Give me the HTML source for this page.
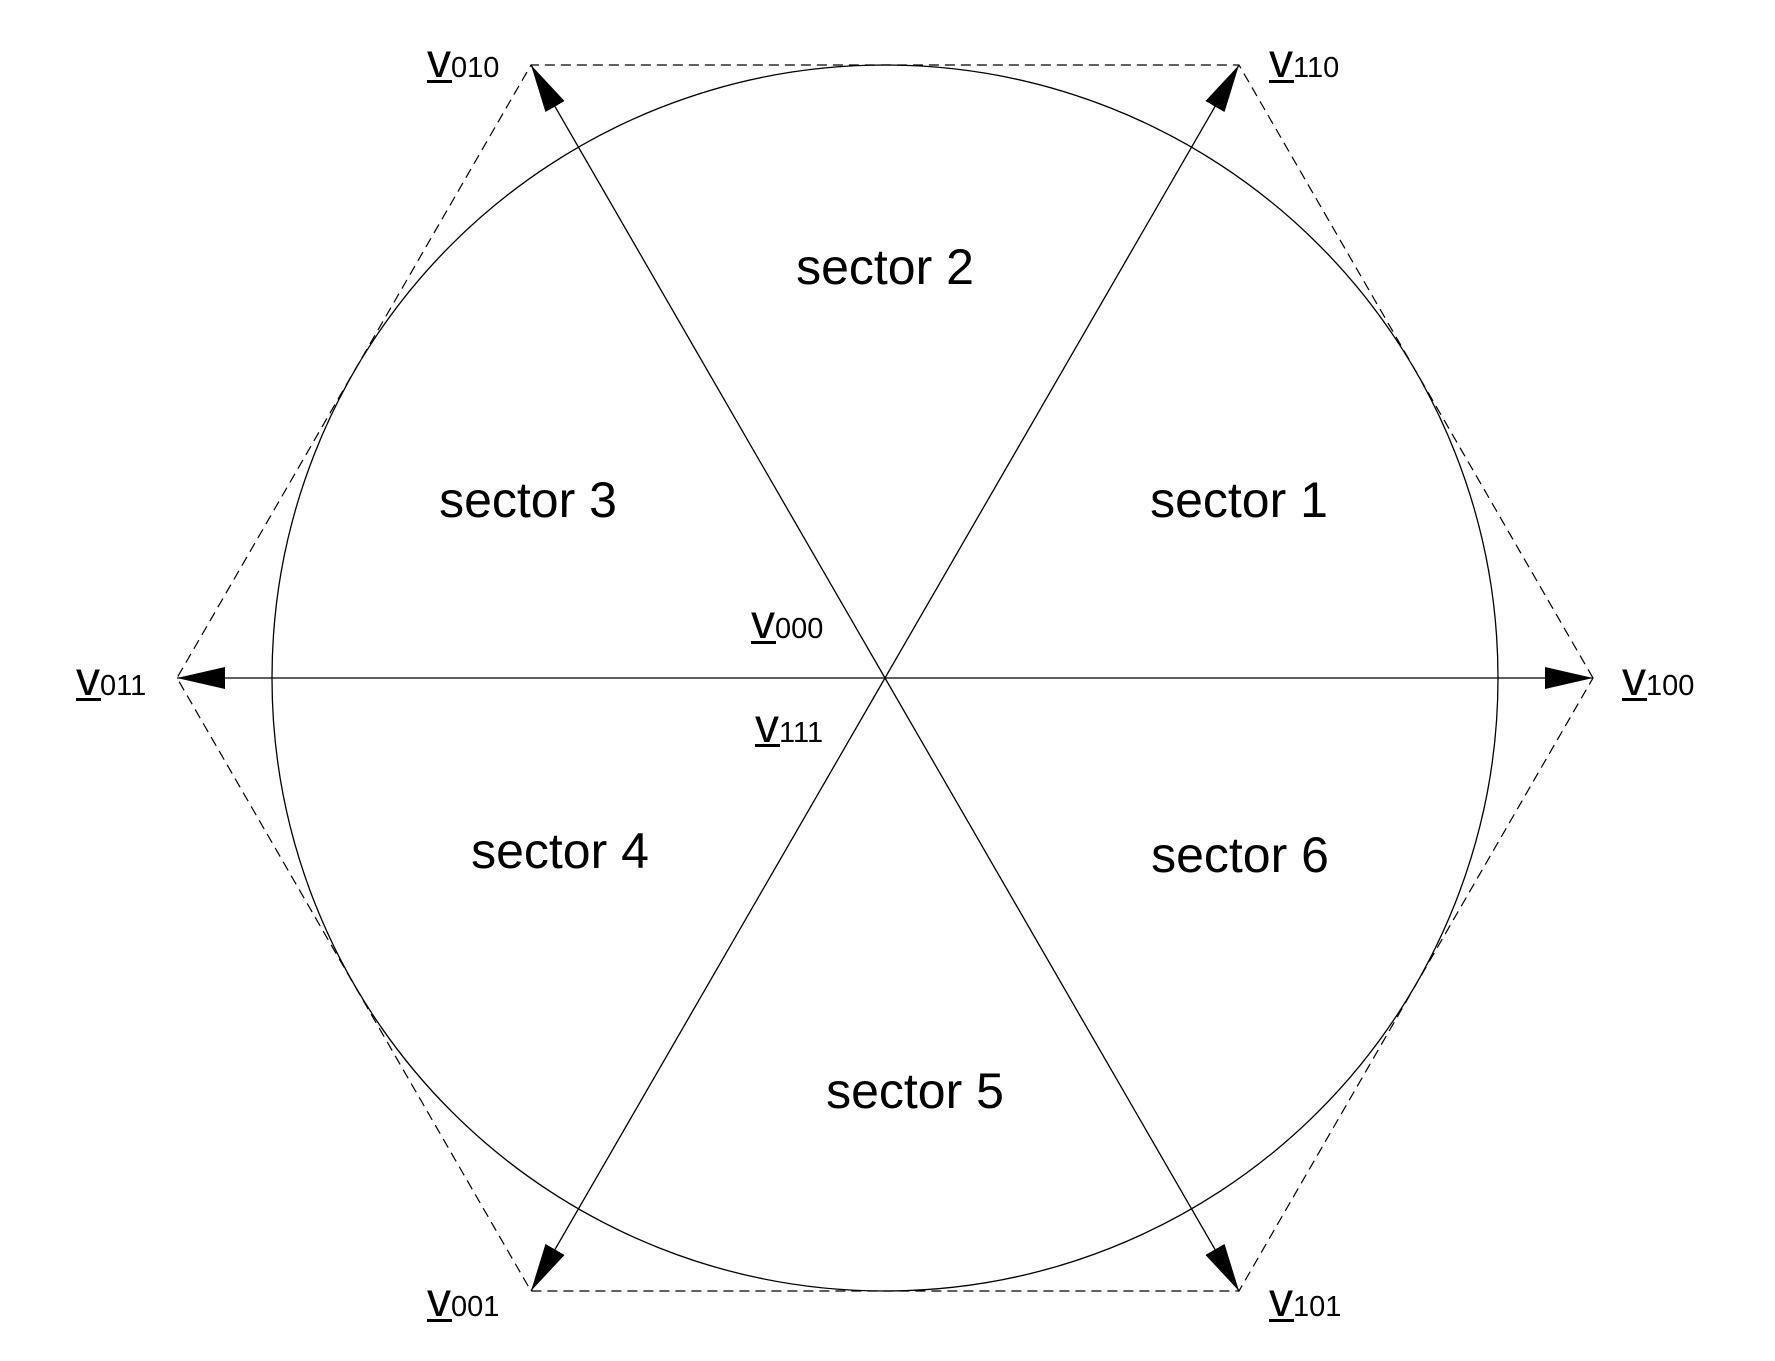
<!DOCTYPE html>
<html><head><meta charset="utf-8"><style>
html,body{margin:0;padding:0;background:#fff;}
svg{display:block;}
text{font-family:"Liberation Sans",sans-serif;fill:#000;}
.s{font-size:50px;text-anchor:middle;}
.v{font-size:48px;}
.d{font-size:29px;}
</style></head><body>
<svg width="1775" height="1361" viewBox="0 0 1775 1361" xmlns="http://www.w3.org/2000/svg">
<defs>
<marker id="a" markerWidth="48" markerHeight="22" refX="48" refY="11" orient="auto" markerUnits="userSpaceOnUse">
<path d="M0,0 L48,11 L0,22 Z" fill="#000"/>
</marker>
</defs>
<polygon points="1593,678 1239,65 531,65 177,678 531,1291 1239,1291" fill="none" stroke="#000" stroke-width="1.2" stroke-dasharray="10,6"/>
<circle cx="885" cy="678" r="613" fill="none" stroke="#000" stroke-width="1.3"/>
<g stroke="#000" stroke-width="1.3" marker-end="url(#a)">
<line x1="885" y1="678" x2="1593" y2="678"/>
<line x1="885" y1="678" x2="1239" y2="65"/>
<line x1="885" y1="678" x2="531" y2="65"/>
<line x1="885" y1="678" x2="177" y2="678"/>
<line x1="885" y1="678" x2="531" y2="1291"/>
<line x1="885" y1="678" x2="1239" y2="1291"/>
</g>
<text class="s" x="885" y="284">sector 2</text>
<text class="s" x="528" y="517">sector 3</text>
<text class="s" x="1239" y="517">sector 1</text>
<text class="s" x="560" y="868">sector 4</text>
<text class="s" x="1240" y="872">sector 6</text>
<text class="s" x="915" y="1108">sector 5</text>
<g>
<text x="427" y="77"><tspan class="v">v</tspan><tspan class="d">010</tspan></text><rect x="427" y="80" width="25" height="3"/>
<text x="1269" y="77"><tspan class="v">v</tspan><tspan class="d">110</tspan></text><rect x="1269" y="80" width="25" height="3"/>
<text x="76" y="695"><tspan class="v">v</tspan><tspan class="d">011</tspan></text><rect x="76" y="698" width="25" height="3"/>
<text x="1622" y="695"><tspan class="v">v</tspan><tspan class="d">100</tspan></text><rect x="1622" y="698" width="25" height="3"/>
<text x="751" y="638"><tspan class="v">v</tspan><tspan class="d">000</tspan></text><rect x="751" y="641" width="25" height="3"/>
<text x="755" y="742"><tspan class="v">v</tspan><tspan class="d">111</tspan></text><rect x="755" y="744" width="25" height="3"/>
<text x="427" y="1316"><tspan class="v">v</tspan><tspan class="d">001</tspan></text><rect x="427" y="1319" width="25" height="3"/>
<text x="1269" y="1316"><tspan class="v">v</tspan><tspan class="d">101</tspan></text><rect x="1269" y="1319" width="25" height="3"/>
</g>
</svg>
</body></html>
